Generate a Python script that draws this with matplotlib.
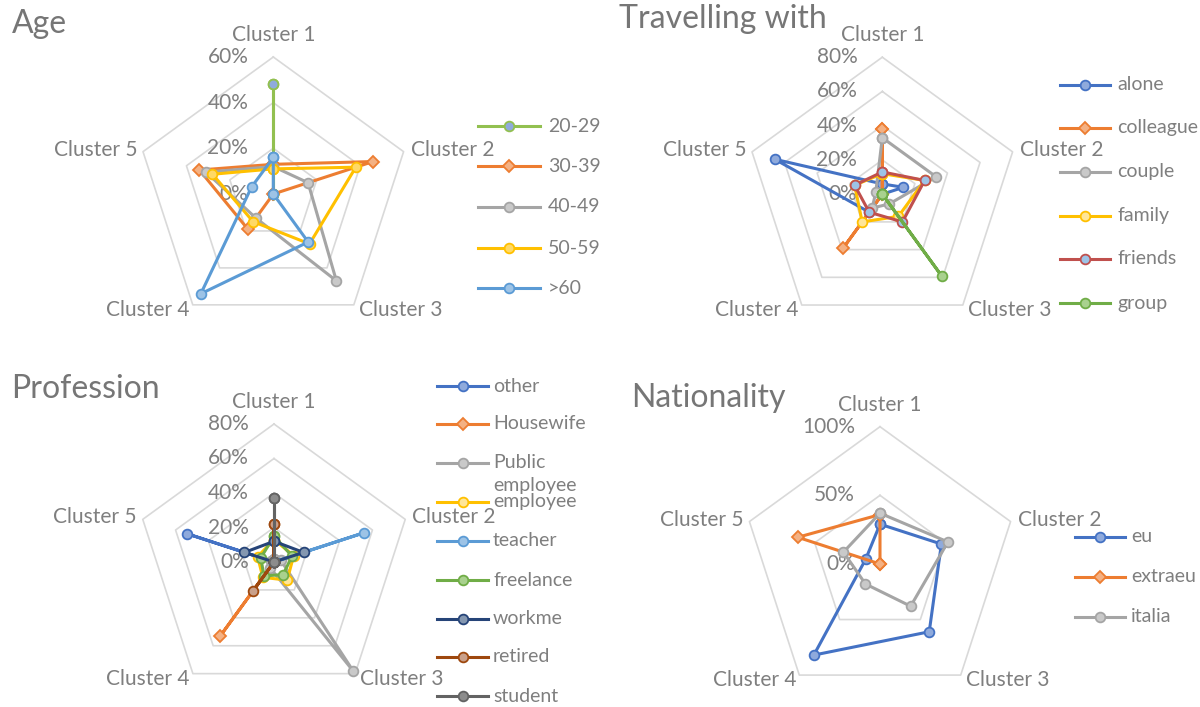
import numpy as np
import matplotlib
matplotlib.use('Agg')
import matplotlib.pyplot as plt
from matplotlib.lines import Line2D

plt.rcParams['font.family'] = ['Lato', 'DejaVu Sans']

W, H = 1200, 707
clusters = ['Cluster 1', 'Cluster 2', 'Cluster 3', 'Cluster 4', 'Cluster 5']

# ---------------- data (percent) ----------------
age_labels = ['20-29', '30-39', '40-49', '50-59', '>60']
age_20_29 = [48, 0, 0, 0, 0]
age_30_39 = [13, 46, 0, 19, 34]
age_40_49 = [12, 16, 47, 13, 31]
age_50_59 = [11, 38, 27, 15, 28]
age_60 = [16, 0, 26, 54, 10]
age_ticks = [0, 20, 40, 60]

travel_labels = ['alone', 'colleague', 'couple', 'family', 'friends', 'group']
tr_alone = [6, 13, 0, 13, 66]
tr_colleague = [38, 0, 0, 39, 0]
tr_couple = [33, 33, 7, 10, 4]
tr_family = [12, 26, 16, 20, 17]
tr_friends = [13, 26, 20, 13, 17]
tr_group = [0, 0, 59, 0, 0]
travel_ticks = [0, 20, 40, 60, 80]

prof_labels = ['other', 'Housewife', 'Public employee', 'employee', 'teacher',
               'freelance', 'workme', 'retired', 'student']
pr_other = [0, 0, 0, 0, 53]
pr_housewife = [0, 0, 0, 53, 0]
pr_public = [2, 4, 78, 4, 2]
pr_employee = [13, 12, 13, 11, 10]
pr_teacher = [0, 55, 0, 0, 0]
pr_freelance = [15, 11, 9, 10, 8]
pr_workme = [12, 18, 0, 0, 18]
pr_retired = [22, 0, 0, 21, 0]
pr_student = [37, 0, 0, 0, 0]
prof_ticks = [0, 20, 40, 60, 80]

nat_labels = ['eu', 'extraeu', 'italia']
nat_eu = [29, 47, 61, 82, 11]
nat_extraeu = [36, 0, 0, 0, 63]
nat_italia = [37, 52, 38, 18, 28]
nat_ticks = [0, 50, 100]

# ---------------- styles ----------------
TXT = '#7F7F7F'
TITLE = '#767676'
GRID = '#D9D9D9'

# (line colour, marker fill, marker)
age_styles = [('#92C050', '#8FAADC', 'o'), ('#ED7D31', '#F4B183', 'D'),
              ('#A5A5A5', '#C9C9C9', 'o'), ('#FFC000', '#FFD966', 'o'),
              ('#5B9BD5', '#9DC3E6', 'o')]
travel_styles = [('#4472C4', '#8FAADC', 'o'), ('#ED7D31', '#F4B183', 'D'),
                 ('#A5A5A5', '#C9C9C9', 'o'), ('#FFC000', '#FFE699', 'o'),
                 ('#C0504D', '#9DC3E6', 'o'), ('#70AD47', '#A9D18E', 'o')]
prof_styles = [('#4472C4', '#8FAADC', 'o'), ('#ED7D31', '#F4B183', 'D'),
               ('#A5A5A5', '#C9C9C9', 'o'), ('#FFC000', '#FFE699', 'o'),
               ('#5B9BD5', '#9DC3E6', 'o'), ('#70AD47', '#A9D18E', 'o'),
               ('#264478', '#8497B0', 'o'), ('#9E480E', '#C9A08A', 'o'),
               ('#636363', '#8C8C8C', 'o')]
nat_styles = [('#4472C4', '#8FAADC', 'o'), ('#ED7D31', '#F4B183', 'D'),
              ('#A5A5A5', '#C9C9C9', 'o')]

fig = plt.figure(figsize=(12, 7.07), dpi=100)

angles = np.deg2rad([0, 72, 144, 216, 288])
ang_c = np.append(angles, angles[0])

LABEL_FS = 15
TICK_FS = 15
LEG_FS = 14
TITLE_FS = 23
PX = 0.72  # points per pixel


def radar(cx, cy, R, ticks, series, styles):
    ax = fig.add_axes([(cx - R) / W, (H - cy - R) / H, 2 * R / W, 2 * R / H],
                      projection='polar')
    ax.set_theta_zero_location('N')
    ax.set_theta_direction(-1)
    ax.set_ylim(0, ticks[-1])
    ax.set_axis_off()
    for t in ticks[1:]:
        ax.plot(ang_c, [t] * 6, color=GRID, lw=1.2, zorder=0, clip_on=False)
    for t in ticks:
        ax.annotate(f'{t}%', xy=(0, t), xytext=(-25 * PX, 0),
                    textcoords='offset points', ha='right', va='center',
                    color=TXT, fontsize=TICK_FS, zorder=1)
    offs = [((0, 22), 'center'), ((7, 2), 'left'), ((5, -5), 'left'),
            ((-3, -5), 'right'), ((-6, 2), 'right')]
    for a, name, (off, ha) in zip(angles, clusters, offs):
        ax.annotate(name, xy=(a, ticks[-1]), xytext=(off[0] * PX, off[1] * PX),
                    textcoords='offset points', ha=ha, va='center',
                    color=TXT, fontsize=LABEL_FS)
    for i, (vals, (lc, fc, mk)) in enumerate(zip(series, styles)):
        v = np.append(vals, vals[0])
        ax.plot(ang_c, v, color=lc, lw=2.2, marker=mk,
                markersize=7 if mk == 'o' else 6.5,
                markerfacecolor=fc, markeredgecolor=lc, markeredgewidth=1.3,
                clip_on=False, zorder=3 + i)
    return ax


def legend(x0, x1, xt, ys, labels, styles, extra=None):
    for y, lab, (lc, fc, mk) in zip(ys, labels, styles):
        fy = 1 - y / H
        fig.add_artist(Line2D([x0 / W, (x0 + x1) / 2 / W, x1 / W], [fy, fy, fy],
                              color=lc, lw=2.2, marker=mk, markevery=[1],
                              markersize=7 if mk == 'o' else 6.5,
                              markerfacecolor=fc, markeredgecolor=lc,
                              markeredgewidth=1.3))
        fig.text(xt / W, fy, lab, ha='left', va='center', color=TXT,
                 fontsize=LEG_FS)


def title(x, y, s):
    fig.text(x / W, 1 - y / H, s, ha='left', va='baseline', color=TITLE,
             fontsize=TITLE_FS)


# Age
radar(273.3, 194, 137, age_ticks,
      [age_20_29, age_30_39, age_40_49, age_50_59, age_60], age_styles)
title(12, 33, 'Age')
legend(478, 540, 548, [126, 166, 207, 248, 288], age_labels, age_styles)

# Travelling with
radar(882.3, 194.2, 137, travel_ticks,
      [tr_alone, tr_colleague, tr_couple, tr_family, tr_friends, tr_group],
      travel_styles)
title(619, 28, 'Travelling with')
legend(1060, 1110, 1117, [85, 128, 172, 216, 259, 303], travel_labels,
       travel_styles)

# Profession
radar(274, 562, 138, prof_ticks,
      [pr_other, pr_housewife, pr_public, pr_employee, pr_teacher,
       pr_freelance, pr_workme, pr_retired, pr_student], prof_styles)
title(11, 398, 'Profession')
prof_leg = ['other', 'Housewife', 'Public', 'employee', 'teacher',
            'freelance', 'workme', 'retired', 'student']
legend(437, 488, 493, [386, 424, 463, 502, 541, 580, 619, 657, 696],
       prof_leg, prof_styles)
fig.text(493 / W, 1 - 486 / H, 'employee', ha='left', va='center', color=TXT,
         fontsize=LEG_FS)

# Nationality
radar(880, 564, 137.3, nat_ticks, [nat_eu, nat_extraeu, nat_italia],
      nat_styles)
title(631, 407, 'Nationality')
legend(1075, 1125, 1131, [537, 577, 617], nat_labels, nat_styles)

fig.savefig('out.png', dpi=100)
